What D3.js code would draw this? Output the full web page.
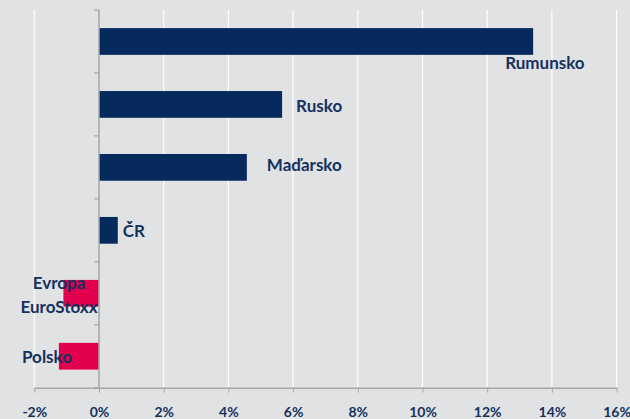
<!DOCTYPE html>
<html><head><meta charset="utf-8">
<script src="https://cdn.jsdelivr.net/npm/d3@7"></script>
<style>body{margin:0;background:#e1e2e4;}svg{display:block;}</style>
</head><body>
<script>
const categories = ["Rumunsko","Rusko","Maďarsko","ČR","Evropa EuroStoxx","Polsko"];
const values = [13.42, 5.66, 4.57, 0.58, -1.1, -1.24];
const labelLines = [["Rumunsko"],["Rusko"],["Maďarsko"],["ČR"],["Evropa","EuroStoxx"],["Polsko"]];
const tickValues = [-2,0,2,4,6,8,10,12,14,16];
// label layout offsets (px) relative to bar end or zero line
const labelLayout = [
  {anchor:"start", x:"end", dx:-28, dy:21.6},
  {anchor:"start", x:"end", dx:14, dy:1.5},
  {anchor:"start", x:"end", dx:20, dy:-2},
  {anchor:"start", x:"end", dx:5, dy:1},
  {anchor:"middle", x:"zero", dx:-40, dy:1.8},
  {anchor:"end", x:"zero", dx:-27, dy:0.4}
];
const W=630,H=419;
const m={left:34.3,right:13.4,top:10,bottom:31.3};
const svg=d3.select("body").append("svg").attr("width",W).attr("height",H);
svg.append("rect").attr("width",W).attr("height",H).attr("fill","#e1e2e4");
const x=d3.scaleLinear().domain([-2,16]).range([m.left,W-m.right]);
const y=d3.scaleBand().domain(categories).range([m.top,H-m.bottom]).paddingInner(0.575).paddingOuter(0.2875);
const navy="#062a5e", pink="#e2004f", txt="#14315f";
const font="Lato, 'Open Sans', sans-serif";
// grid
svg.append("g").selectAll("line").data(tickValues.filter(d=>d!==0)).join("line")
  .attr("x1",d=>x(d)).attr("x2",d=>x(d)).attr("y1",m.top).attr("y2",H-m.bottom)
  .attr("stroke","#ffffff").attr("stroke-width",1.2);
// bars
svg.append("g").selectAll("rect").data(categories).join("rect")
  .attr("x",(d,i)=>x(Math.min(0,values[i])))
  .attr("width",(d,i)=>Math.abs(x(values[i])-x(0)))
  .attr("y",d=>y(d)).attr("height",y.bandwidth())
  .attr("fill",(d,i)=>values[i]<0?pink:navy);
// x axis
const xa=svg.append("g").attr("transform",`translate(0,${H-m.bottom})`)
  .call(d3.axisBottom(x).tickValues(tickValues).tickFormat(d=>d+"%").tickSize(5).tickSizeOuter(0));
xa.select(".domain").attr("stroke","#a6a6a6").attr("stroke-width",1.5);
xa.selectAll(".tick line").attr("stroke","#a6a6a6").attr("stroke-width",1);
xa.selectAll(".tick text").attr("fill",txt).attr("font-family",font)
  .attr("font-weight","bold").attr("font-size","14px").attr("y",29).attr("dy","0");
// y axis at 0
const yTicks=d3.range(categories.length+1).map(i=>m.top+i*(H-m.top-m.bottom)/categories.length);
svg.append("line").attr("x1",x(0)).attr("x2",x(0)).attr("y1",m.top).attr("y2",H-m.bottom)
  .attr("stroke","#a6a6a6").attr("stroke-width",1.5);
svg.append("g").selectAll("line").data(yTicks).join("line")
  .attr("x1",x(0)-5).attr("x2",x(0)).attr("y1",d=>d).attr("y2",d=>d)
  .attr("stroke","#a6a6a6").attr("stroke-width",1.2);
// labels
const lg=svg.append("g").attr("font-family",font).attr("font-weight","bold")
  .attr("font-size","17px").attr("fill",txt);
categories.forEach((c,i)=>{
  const L=labelLayout[i];
  const bx=L.x==="end"?x(values[i]):x(0);
  const cy=y(c)+y.bandwidth()/2+L.dy;
  const lines=labelLines[i];
  const lh=24.7;
  lines.forEach((t,j)=>{
    lg.append("text").attr("x",bx+L.dx).attr("y",cy+(j-(lines.length-1)/2)*lh)
      .attr("dy","0.35em").attr("text-anchor",L.anchor).text(t);
  });
});
</script>
</body></html>
